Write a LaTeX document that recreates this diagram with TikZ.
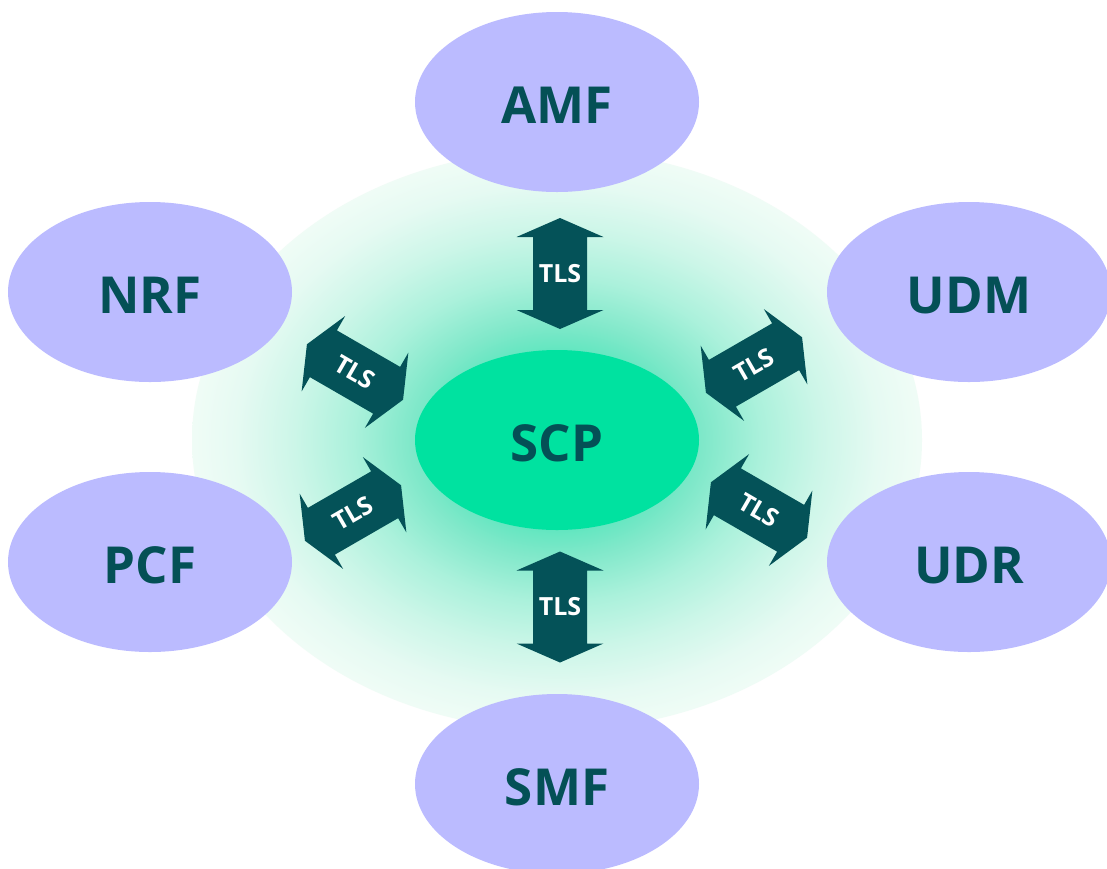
\documentclass[tikz,border=0pt]{standalone}
\usepackage{fontspec}
\setmainfont{Open Sans}
\usetikzlibrary{shapes.geometric}

\definecolor{nfcol}{RGB}{187,187,255}
\definecolor{scpcol}{RGB}{0,226,160}
\definecolor{ink}{RGB}{4,80,86}
\definecolor{tlscol}{RGB}{4,82,88}

% soft mint halo around the proxy (path edge sits at 25bp)
\pgfdeclareradialshading{scpglow}{\pgfpoint{0bp}{0bp}}{%
  rgb(0bp)=(0,0.88,0.63);
  rgb(10bp)=(0.50,0.91,0.79);
  rgb(14bp)=(0.67,0.945,0.86);
  rgb(18bp)=(0.80,0.965,0.91);
  rgb(22bp)=(0.90,0.98,0.95);
  rgb(25bp)=(0.94,0.99,0.965);
  rgb(50bp)=(0.94,0.99,0.965)}

% double-headed TLS block: name, x, y, axis angle, text angle
\newcommand\tlsarrow[5]{%
  \begin{scope}[shift={(#2,#3)}, rotate=#4]
    \fill[tlscol] (-55.5,0) -- (-36.5,43.5) -- (-36.5,27) -- (36.5,27)
      -- (36.5,43.5) -- (55.5,0) -- (36.5,-43.5) -- (36.5,-27)
      -- (-36.5,-27) -- (-36.5,-43.5) -- cycle;
  \end{scope}
  \node[tlstext, rotate=#5] (#1) at (#2,#3) {TLS};%
}

\begin{document}
\begin{tikzpicture}[x=1pt, y=-1pt,
  nf/.style={ellipse, fill=nfcol, minimum width=284pt, minimum height=180pt,
    inner sep=0pt, text=ink, text height=42pt, text depth=0pt,
    font=\fontsize{51}{51}\selectfont\bfseries},
  scp/.style={nf, fill=scpcol},
  tlstext/.style={text=white, inner sep=0pt, font=\fontsize{25}{25}\selectfont\bfseries}]

\useasboundingbox (0,0) rectangle (1107,868);
\clip (0,0) rectangle (1107,868);
\fill[white] (0,0) rectangle (1107,868);

\shade[shading=scpglow] (557,440) ellipse [x radius=365pt, y radius=290pt];

% network functions
\node[nf] (amf) at (557,102) {AMF};
\node[nf] (nrf) at (150,292) {NRF};
\node[nf] (udm) at (969,292) {UDM};
\node[nf] (pcf) at (150,562) {PCF};
\node[nf] (udr) at (969,562) {UDR};
\node[nf] (smf) at (557,784) {SMF};
\node[scp] (scp) at (557,440) {SCP};

% TLS links
\tlsarrow{tamf}{560}{273.5}{90}{0}
\tlsarrow{tsmf}{560}{607}{90}{0}
\tlsarrow{tnrf}{355}{372}{-30}{-30}
\tlsarrow{tudm}{754}{365}{30}{30}
\tlsarrow{tpcf}{353}{513}{30}{30}
\tlsarrow{tudr}{759}{510}{-30}{-30}

\end{tikzpicture}
\end{document}
